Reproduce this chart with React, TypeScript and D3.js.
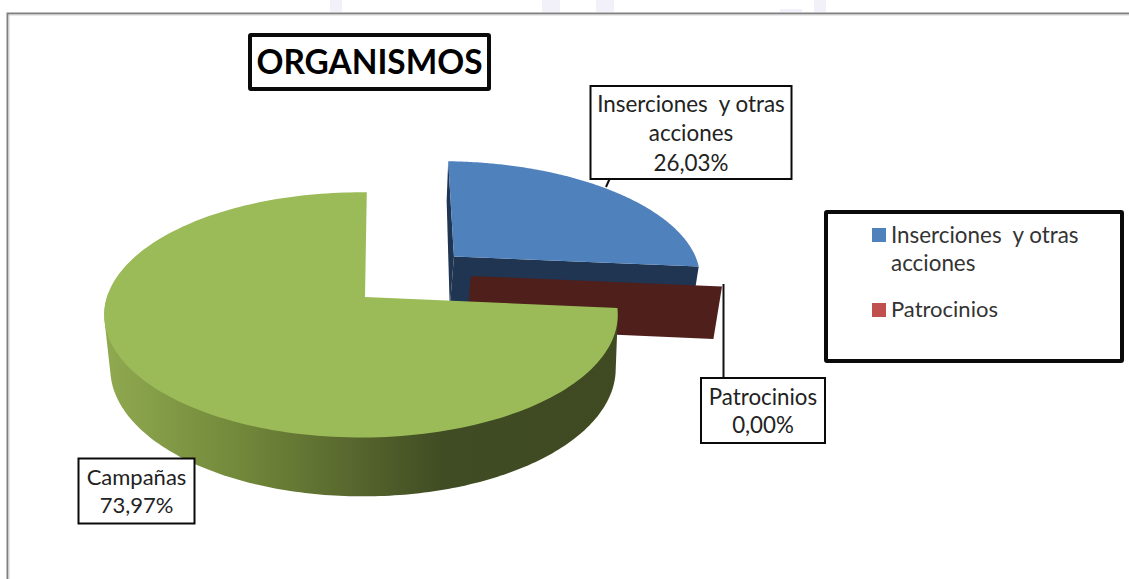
import React from "react";
import * as d3 from "d3";

const categories = ["Inserciones  y otras acciones", "Patrocinios", "Campañas"];
const values = [26.03, 0.0, 73.97];
const legendCategories = ["Inserciones  y otras acciones", "Patrocinios"];

const W = 1129, H = 579;
const FONT = "Lato, 'Open Sans', sans-serif";
const K = 0.146;
const START = (1.5 * Math.PI) / 180;

type Plane = { cx: number; cy: number; rx: number; ry: number };
type Off = { du: number; dv: number };
const TOP: Plane = { cx: 361, cy: 297, rx: 254, ry: 120 };
const BOTTOM: Plane = { cx: 363, cy: 350, rx: 250, ry: 125 };
const OFFSETS: Off[] = [
  { du: 0.385, dv: -0.355 },
  { du: 0.444, dv: -0.18 },
  { du: 0, dv: 0 },
];
const BOTTOM_DU = [-0.02, -0.02, 0];

const project = (p: Plane, u: number, v: number): [number, number] => {
  const s = 1 / (1 - K * v);
  return [p.cx + p.rx * u * s, p.cy + p.ry * v * s];
};
const rim = (p: Plane, a: number, o: Off): [number, number] =>
  project(p, o.du + Math.sin(a), o.dv - Math.cos(a));
const apex = (p: Plane, o: Off): [number, number] => project(p, o.du, o.dv);
const arcPts = (p: Plane, a0: number, a1: number, o: Off) =>
  d3.range(0, 181).map((i) => rim(p, a0 + ((a1 - a0) * i) / 180, o));

const line = d3.line<[number, number]>();
const closed = (pts: [number, number][]) => line(pts) + "Z";

function Box({ x, y, w, h, sw = 2, lines, size, baselines, bold = false, cx }: any) {
  return (
    <g>
      <rect x={x} y={y} width={w} height={h} fill="#fff" stroke="#0a0a0a" strokeWidth={sw} rx={sw > 3 ? 1 : 0} />
      {lines.map((t: string, i: number) => (
        <text key={i} x={cx ?? x + w / 2} y={baselines[i]} textAnchor="middle" fontSize={size}
          fontFamily={FONT} fontWeight={bold ? 700 : 400} fill={bold ? "#000" : "#222"} style={{ whiteSpace: "pre" }}>
          {t}
        </text>
      ))}
    </g>
  );
}

export default function App() {
  const pie = d3.pie<number>().sort(null).startAngle(START).endAngle(START + 2 * Math.PI);
  const arcs = pie(values);
  const [blue, red, green] = arcs;
  const [oB, oR, oG] = OFFSETS;
  const oBb = { du: oB.du + BOTTOM_DU[0], dv: oB.dv };
  const oRb = { du: oR.du + BOTTOM_DU[1], dv: oR.dv };
  const pct = (v: number) => d3.format(".2f")(v).replace(".", ",") + "%";

  // blue slice
  const blueTop = closed([apex(TOP, oB), ...arcPts(TOP, blue.startAngle, blue.endAngle, oB)]);
  const blueCut = closed([
    apex(TOP, oB), rim(TOP, blue.endAngle, oB), rim(BOTTOM, blue.endAngle, oBb), apex(BOTTOM, oBb),
  ]);
  const sliverFoot = rim(BOTTOM, blue.startAngle, oBb);
  const blueSliver = closed([
    rim(TOP, blue.startAngle, oB), apex(TOP, oB), apex(BOTTOM, oBb),
    [sliverFoot[0] + 2, sliverFoot[1] - 8],
  ]);

  // zero-width red slice: only its cut face shows
  const redCut = closed([
    apex(TOP, oR), rim(TOP, red.startAngle, oR), rim(BOTTOM, red.startAngle, oRb), apex(BOTTOM, oRb),
  ]);

  // green slice: the side is the silhouette of the front part of the two rims
  const greenApex: [number, number] = [apex(TOP, oG)[0] + 4, apex(TOP, oG)[1]];
  const greenTop = closed([greenApex, ...arcPts(TOP, green.startAngle, green.endAngle, oG)]);
  const sideEnd = (272 * Math.PI) / 180;
  const hull = d3.polygonHull([
    ...arcPts(TOP, green.startAngle, sideEnd, oG),
    ...arcPts(BOTTOM, green.startAngle, sideEnd, oG),
  ]) as [number, number][];
  const greenSide = closed(hull);

  return (
    <svg width={W} height={H} viewBox={`0 0 ${W} ${H}`}
      style={{ position: "absolute", left: 0, top: 0, display: "block", background: "#fff" }}>
      <defs>
        <linearGradient id="side" gradientUnits="userSpaceOnUse" x1={104} x2={618} y1={0} y2={0}>
          <stop offset="0" stopColor="#90aa50" />
          <stop offset="0.28" stopColor="#708639" />
          <stop offset="0.47" stopColor="#59692f" />
          <stop offset="0.66" stopColor="#404c23" />
          <stop offset="1" stopColor="#3f4a22" />
        </linearGradient>
      </defs>

      <g fill="#f2f1f9">
        <rect x={330} y={0} width={12} height={12} />
        <rect x={542} y={0} width={18} height={12} />
        <rect x={596} y={0} width={18} height={12} />
        <rect x={814} y={0} width={12} height={12} />
        <rect x={780} y={9} width={22} height={3} />
      </g>
      <path d={`M7.5,${H} V13.5 H${W}`} fill="none" stroke="#808080" strokeWidth={2} />
      <path d={`M9,${H} V15 H${W}`} fill="none" stroke="#d4d4d4" strokeWidth={1} />

      <path d={blueSliver} fill="#1f3552" />
      <path d={blueCut} fill="#1f3552" />
      <path d={blueTop} fill="#4f81bd" />
      <path d={redCut} fill="#4f1f1c" />
      <path d={greenSide} fill="url(#side)" />
      <path d={greenTop} fill="#9bbb59" />

      <path d="M610,178 L606,187" stroke="#111" strokeWidth={2} fill="none" />
      <path d="M723.5,284 V378" stroke="#111" strokeWidth={2} fill="none" />

      <Box x={250} y={35} w={239} h={54} sw={4} lines={["ORGANISMOS"]} size={33.4} baselines={[74]} bold />
      <Box x={590.5} y={86} w={201} h={93} lines={["Inserciones  y otras", "acciones", pct(blue.value)]}
        size={22.4} baselines={[112, 141, 171]} />
      <Box x={701} y={378} w={124} h={65} lines={[categories[1], pct(red.value)]}
        size={22.3} baselines={[405, 433]} />
      <Box x={78.5} y={458.5} w={116} h={65} lines={[categories[2], pct(green.value)]}
        size={22} baselines={[485, 513]} />

      <rect x={826} y={212} width={296} height={149} fill="#fff" stroke="#0a0a0a" strokeWidth={4} rx={1} />
      <rect x={872} y={228} width={14} height={14} fill="#4f81bd" />
      <text x={891} y={243} fontSize={22.4} fontFamily={FONT} fill="#333" style={{ whiteSpace: "pre" }}>
        {legendCategories[0].split(" acciones")[0]}
      </text>
      <text x={891} y={271} fontSize={22.4} fontFamily={FONT} fill="#333">acciones</text>
      <rect x={872} y={303} width={14} height={14} fill="#c0504d" />
      <text x={891} y={317} fontSize={22} fontFamily={FONT} fill="#333">{legendCategories[1]}</text>
    </svg>
  );
}
